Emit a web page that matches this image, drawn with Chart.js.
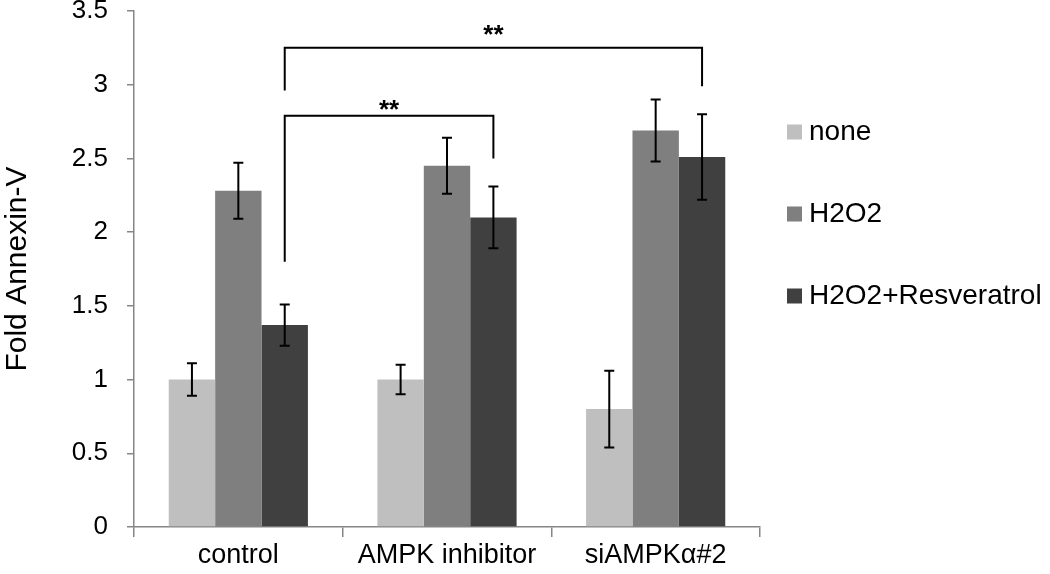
<!DOCTYPE html>
<html>
<head>
<meta charset="utf-8">
<script src="https://cdn.jsdelivr.net/npm/chart.js@4"></script>
<style>
  html, body { margin: 0; padding: 0; background: #fff; }
</style>
</head>
<body>
<canvas id="chart" width="1050" height="574"></canvas>
<script>
const categories = ['control', 'AMPK inhibitor', 'siAMPKα#2'];
const seriesNames = ['none', 'H2O2', 'H2O2+Resveratrol'];
const noneVals = [1.00, 1.00, 0.80];
const h2o2Vals = [2.28, 2.45, 2.69];
const resVals = [1.37, 2.10, 2.51];
const noneErr = [0.11, 0.10, 0.26];
const h2o2Err = [0.19, 0.19, 0.21];
const resErr = [0.14, 0.21, 0.29];
const barColors = ['#bfbfbf', '#7f7f7f', '#404040'];

// significance brackets, drawn between the H2O2+Resveratrol bars
const bracketPairs = [[0, 1], [0, 2]];
const bracketTop = [2.79, 3.25];
const bracketLeftEnd = [1.80, 2.96];
const bracketRightEnd = [2.50, 2.99];
const bracketStarY = [2.82, 3.33];
const bracketText = ['**', '**'];

const FONT = "'Liberation Sans', Arial, sans-serif";
const AXIS = '#868686';

// ── error bars + brackets ──
const errorBars = {
  id: 'errorBars',
  afterDatasetsDraw(chart) {
    const { ctx, scales: { y } } = chart;
    ctx.save();
    ctx.strokeStyle = '#000';
    ctx.lineWidth = 2;
    chart.data.datasets.forEach((ds, di) => {
      chart.getDatasetMeta(di).data.forEach((bar, i) => {
        const top = y.getPixelForValue(ds.data[i] + ds.errors[i]);
        const bot = y.getPixelForValue(ds.data[i] - ds.errors[i]);
        ctx.beginPath();
        ctx.moveTo(bar.x, top); ctx.lineTo(bar.x, bot);
        ctx.moveTo(bar.x - 5, top); ctx.lineTo(bar.x + 5, top);
        ctx.moveTo(bar.x - 5, bot); ctx.lineTo(bar.x + 5, bot);
        ctx.stroke();
      });
    });

    const resBars = chart.getDatasetMeta(2).data;
    ctx.fillStyle = '#000';
    ctx.font = 'bold 26px ' + FONT;
    ctx.textAlign = 'center';
    ctx.textBaseline = 'middle';
    bracketPairs.forEach(([a, b], k) => {
      const x1 = resBars[a].x, x2 = resBars[b].x;
      const yt = y.getPixelForValue(bracketTop[k]);
      ctx.beginPath();
      ctx.moveTo(x1, y.getPixelForValue(bracketLeftEnd[k]));
      ctx.lineTo(x1, yt);
      ctx.lineTo(x2, yt);
      ctx.lineTo(x2, y.getPixelForValue(bracketRightEnd[k]));
      ctx.stroke();
      ctx.fillText(bracketText[k], (x1 + x2) / 2, y.getPixelForValue(bracketStarY[k]));
    });
    ctx.restore();
  }
};

// legend on the right, rows spaced wide like the original
const sideLegend = {
  id: 'sideLegend',
  afterDraw(chart) {
    const { ctx, chartArea } = chart;
    ctx.save();
    ctx.font = '28px ' + FONT;
    ctx.textBaseline = 'middle';
    ctx.textAlign = 'left';
    chart.data.datasets.forEach((ds, i) => {
      const x = chartArea.right + 27;
      const yc = 132 + i * 82;
      ctx.fillStyle = ds.backgroundColor;
      ctx.fillRect(x, yc - 7.5, 15, 15);
      ctx.fillStyle = '#000';
      ctx.fillText(ds.label, x + 22, yc);
    });
    ctx.restore();
  }
};

new Chart(document.getElementById('chart'), {
  type: 'bar',
  data: {
    labels: categories,
    datasets: [
      { label: seriesNames[0], data: noneVals, errors: noneErr, backgroundColor: barColors[0] },
      { label: seriesNames[1], data: h2o2Vals, errors: h2o2Err, backgroundColor: barColors[1] },
      { label: seriesNames[2], data: resVals, errors: resErr, backgroundColor: barColors[2] },
    ]
  },
  options: {
    responsive: false,
    animation: false,
    layout: { padding: { top: 11, right: 290, left: 0, bottom: 0 } },
    datasets: { bar: { categoryPercentage: 0.667, barPercentage: 1.0 } },
    plugins: { legend: { display: false }, tooltip: { enabled: false } },
    scales: {
      x: {
        afterFit: (s) => { s.height = 47; s.paddingLeft = 0; s.paddingRight = 0; },
        border: { color: AXIS, width: 1.5 },
        grid: { offset: true, drawOnChartArea: false, tickLength: 10, color: AXIS, lineWidth: 1.5 },
        ticks: { color: '#000', font: { size: 27, family: FONT }, padding: 2 }
      },
      y: {
        min: 0, max: 3.5,
        afterFit: (s) => { s.width = 134; s.paddingTop = 0; s.paddingBottom = 0; },
        border: { color: AXIS, width: 1.5 },
        grid: { drawOnChartArea: false, tickLength: 7, color: AXIS, lineWidth: 1.5 },
        ticks: { stepSize: 0.5, color: '#000', font: { size: 26, family: FONT }, padding: 19,
                 callback: (v) => String(v) },
        title: { display: true, text: 'Fold Annexin-V', color: '#000', font: { size: 30, family: FONT }, padding: 0 }
      }
    }
  },
  plugins: [errorBars, sideLegend]
});
</script>
</body>
</html>
